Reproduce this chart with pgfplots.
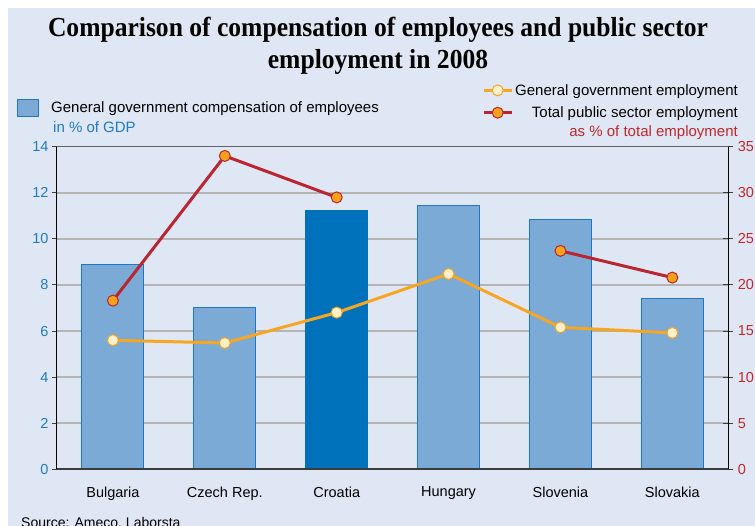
\documentclass[border=0pt]{standalone}
\usepackage{fontspec}
\setmainfont{Liberation Sans}
\newfontfamily\titlefont[FakeStretch=0.93]{Liberation Serif}
\usepackage{pgfplots}
\pgfplotsset{compat=1.18}
\usepackage{pgfplotstable}

\definecolor{panel}{HTML}{E0E7F4}
\definecolor{tickblue}{HTML}{1E7AC5}
\definecolor{tickred}{HTML}{C1272D}
\definecolor{barfill}{HTML}{7AAAD5}
\definecolor{baredge}{HTML}{1F77C0}
\definecolor{croatia}{HTML}{0072BC}
\definecolor{redline}{HTML}{BA2531}
\definecolor{orangeline}{HTML}{F6A623}
\definecolor{redmark}{HTML}{F7A11A}
\definecolor{cream}{HTML}{FDF0CC}
\definecolor{gridgray}{HTML}{B4B4B4}
\definecolor{axisdark}{HTML}{3C3C3C}

% x = category index, comp = % of GDP, gge/tpse = % of total employment
\pgfplotstableread{
x comp  gge  tpse
0 8.9   14.0 18.3
1 7.0   13.7 34.0
2 11.25 17.0 29.5
3 11.45 21.2 nan
4 10.85 15.4 23.7
5 7.4   14.8 20.8
}\data

\pgfplotsset{
  chartbox/.style={
    at={(57pt,-469.3pt)}, anchor=south west, scale only axis,
    width=671.3pt, height=322.6pt,
    xmin=-0.5, xmax=5.5,
    /pgf/number format/assume math mode=true,
    tick label style={font=\fontsize{14.5}{14.5}\selectfont},
  },
}

\begin{document}
\begin{tikzpicture}
\useasboundingbox (0pt,0pt) rectangle (755pt,-526pt);
\clip (0pt,0pt) rectangle (755pt,-526pt);
\fill[white] (0pt,0pt) rectangle (755pt,-526pt);
\fill[panel] (8pt,-8pt) rectangle (755pt,-526pt);

\node[font=\titlefont\bfseries\fontsize{27.5}{32}\selectfont, align=center]
  at (378pt,-46pt) {Comparison of compensation of employees and public sector\\employment in 2008};

\begin{axis}[chartbox,
  ymin=0, ymax=14, ytick={0,2,...,14},
  xtick={0,...,5},
  xticklabels={Bulgaria,Czech Rep.,Croatia,Hungary,Slovenia,Slovakia},
  axis x line*=bottom, axis y line*=left,
  x axis line style={draw=none},
  y axis line style={black, line width=1pt},
  ymajorgrids, grid style={gridgray, line width=1.5pt},
  tick align=outside, major tick length=5pt,
  y tick style={axisdark, line width=1pt},
  x tick style={draw=none},
  yticklabel style={text=tickblue},
  xticklabel style={yshift=-9pt},
  ybar, bar width=62pt,
  legend style={at={(axis description cs:-0.0596,1.12)}, anchor=west,
    draw=none, fill=none, inner sep=0pt,
    nodes={inner sep=0pt, font=\fontsize{15}{15}\selectfont},
    /tikz/every odd column/.append style={column sep=12pt}},
  legend image code/.code={\draw[#1] (0pt,-8pt) rectangle (21pt,8.5pt);},
]
\addplot[fill=barfill, draw=baredge, line width=1pt, bar shift=0pt]
  table[x=x, y=comp] {\data};
\addlegendentry{General government compensation of employees}
\addplot[fill=croatia, draw=croatia, line width=1pt, bar shift=0pt, forget plot,
  restrict x to domain=2:2]
  table[x=x, y=comp] {\data};
\end{axis}

\begin{axis}[chartbox,
  ymin=0, ymax=35, ytick={0,5,...,35},
  axis x line=none, axis y line*=right,
  y axis line style={black, line width=1pt},
  tick align=center, major tick length=10pt,
  y tick style={axisdark, line width=1pt},
  yticklabel style={text=tickred, xshift=1pt},
  unbounded coords=jump,
  legend style={at={(axis description cs:1.0145,1.140)}, anchor=east,
    draw=none, fill=none, inner sep=0pt,
    nodes={inner sep=0pt, font=\fontsize{15}{15}\selectfont},
    row sep=10pt,
    /tikz/every odd column/.append style={column sep=2pt}},
  legend cell align=right,
  legend image code/.code={\draw[mark repeat=2, mark phase=2, #1]
    plot coordinates {(0pt,0pt) (14pt,0pt) (28pt,0pt)};},
]
\addplot[orangeline, line width=3pt, mark=*, mark size=5.5pt,
  mark options={fill=cream, draw=orangeline, line width=1pt}]
  table[x=x, y=gge] {\data};
\addlegendentry{General government employment}
\addplot[redline, line width=3pt, mark=*, mark size=5.5pt,
  mark options={fill=redmark, draw=redline, line width=1pt}]
  table[x=x, y=tpse] {\data};
\addlegendentry{Total public sector employment}
\draw[axisdark, line width=2pt] (rel axis cs:0,0) -- (rel axis cs:1,0);
\draw[axisdark!80, line width=1.5pt] (rel axis cs:0,1) -- (rel axis cs:1,1);
\end{axis}

\node[anchor=west, text=tickblue, font=\fontsize{15}{15}\selectfont, inner sep=0pt]
  at (53pt,-127pt) {in \% of GDP};
\node[anchor=east, text=tickred, font=\fontsize{15}{15}\selectfont, inner sep=0pt]
  at (738pt,-133pt) {as \% of total employment};
\node[anchor=base west, font=\fontsize{14}{14}\selectfont, inner sep=0pt]
  at (21pt,-527pt) {Source: Ameco, Laborsta};
\end{tikzpicture}
\end{document}
